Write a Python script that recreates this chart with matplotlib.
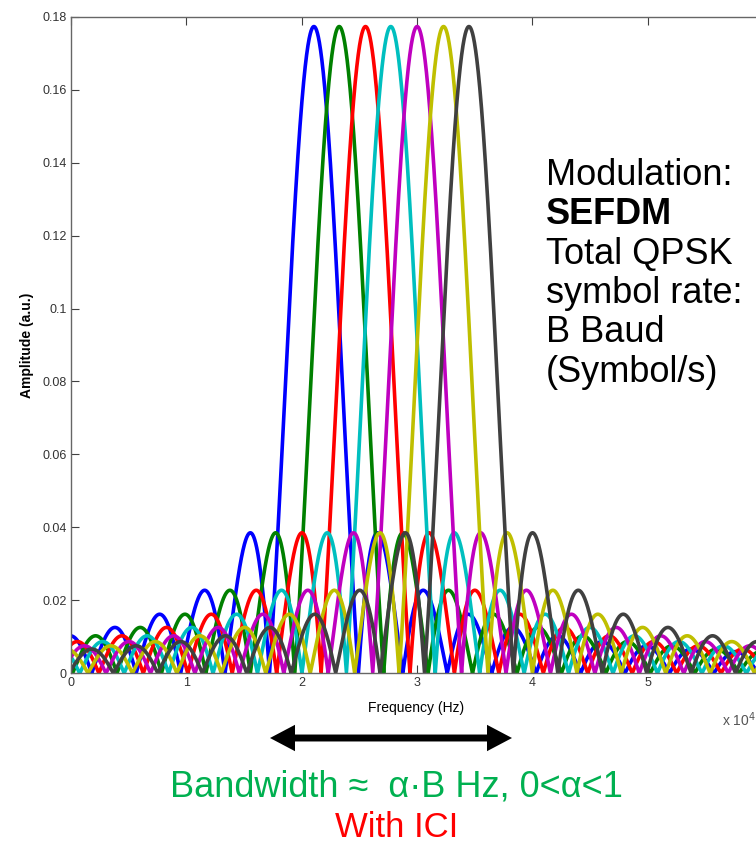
import numpy as np
import matplotlib.pyplot as plt
from matplotlib.patches import FancyArrowPatch

# subcarrier centre frequencies (x 10^4 Hz), read from the peaks
centres = [2.107, 2.326, 2.554, 2.773, 3.001, 3.230, 3.450]
colors = ['#0000ff', '#008000', '#ff0000', '#00bfbf', '#bf00bf', '#bfbf00', '#404040']
peak = 0.1773        # main lobe height
null_width = 0.385   # distance from peak to first null

xticks = [0, 1, 2, 3, 4, 5]
yticks = [0, 0.02, 0.04, 0.06, 0.08, 0.1, 0.12, 0.14, 0.16, 0.18]
ytick_labels = ['0', '0.02', '0.04', '0.06', '0.08', '0.1', '0.12', '0.14', '0.16', '0.18']

info_lines = ['Modulation:', 'SEFDM', 'Total QPSK', 'symbol rate:', 'B Baud', '(Symbol/s)']

W, H = 756, 846
fig = plt.figure(figsize=(W / 100, H / 100), dpi=100)
ax = fig.add_axes([70.7 / W, 1 - 673.3 / H, (761 - 70.7) / W, (673.3 - 16.7) / H])

f = np.linspace(0, 6, 4000)
for fc, c in zip(centres, colors):
    ax.plot(f, peak * np.abs(np.sinc((f - fc) / null_width)), color=c, lw=2.6)

ax.set_xlim(0, 5.98)
ax.set_ylim(0, 0.18)
ax.set_xticks(xticks)
ax.set_yticks(yticks)
ax.set_yticklabels(ytick_labels)
ax.tick_params(direction='in', top=True, right=False, length=6, width=0.8,
               labelsize=9, colors='#404040', pad=3)
for s in ax.spines.values():
    s.set_color('#666666')
    s.set_linewidth(1.0)
for lab in ax.get_xticklabels() + ax.get_yticklabels():
    lab.set_family('Liberation Sans')
    lab.set_color('#333333')

ax.set_xlabel('Frequency (Hz)', fontsize=10, family='Liberation Sans', labelpad=8)
ax.set_ylabel('Amplitude (a.u.)', fontsize=10, family='Liberation Sans',
              fontweight='bold', labelpad=6)

fig.text(722 / W, 1 - 726 / H, r'x 10$^4$', fontsize=10, color='#555555',
         family='Liberation Sans', va='baseline', ha='left')

# side annotation
for i, line in enumerate(info_lines):
    fig.text(546 / W, 1 - (185 + i * 39.3) / H, line, fontsize=26,
             family='Liberation Sans', va='baseline', ha='left',
             fontweight='bold' if line == 'SEFDM' else 'normal')

# bandwidth arrow (two heads drawn outward from the middle)
mid = 391
for end in (270, 512):
    fig.patches.append(FancyArrowPatch(
        (mid / W, 1 - 738 / H), (end / W, 1 - 738 / H), transform=fig.transFigure,
        arrowstyle='simple,head_length=18,head_width=19,tail_width=5',
        mutation_scale=1, lw=0, color='black', shrinkA=0, shrinkB=0))

fig.text(396 / W, 1 - 796 / H, 'Bandwidth \u2248  \u03b1\u00b7B Hz, 0<\u03b1<1',
         fontsize=26, color='#00b050', family='Liberation Sans', ha='center', va='baseline')
fig.text(397 / W, 1 - 837 / H, 'With ICI', fontsize=25, color='#ff0000',
         family='Liberation Sans', ha='center', va='baseline')

fig.savefig('out.png', dpi=100)
